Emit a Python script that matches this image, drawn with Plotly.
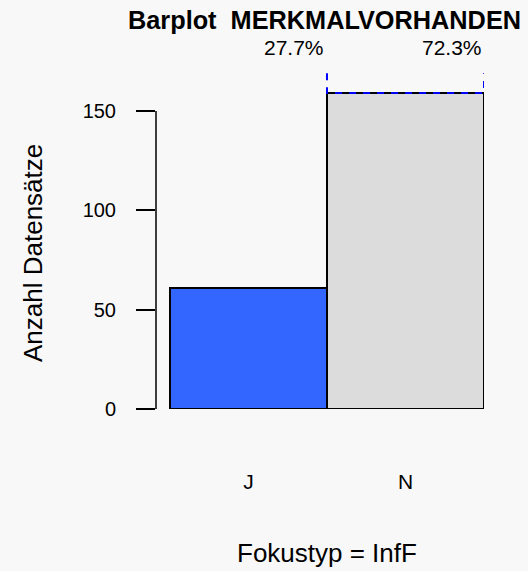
import plotly.graph_objects as go

categories = ["J", "N"]
counts = [61, 159]
percent_labels = ["27.7%", "72.3%"]
bar_colors = ["#3366FF", "#DCDCDC"]
y_ticks = [0, 50, 100, 150]

BG = "#F8F8F8"
FONT = "Liberation Sans, Arial, sans-serif"

xpos = list(range(len(categories)))

fig = go.Figure()
fig.add_trace(go.Bar(
    x=xpos, y=counts, width=1.0,
    marker=dict(color=bar_colors, line=dict(color="black", width=2)),
    hoverinfo="skip", showlegend=False,
))

# dashed bracket over the maximum bar
imax = counts.index(max(counts))
ytop = 169
fig.add_trace(go.Scatter(
    x=[imax - 0.5, imax - 0.5, imax + 0.5, imax + 0.5],
    y=[ytop, max(counts), max(counts), ytop],
    mode="lines", line=dict(color="#0000FF", width=2, dash="7px,7px"),
    hoverinfo="skip", showlegend=False, cliponaxis=False,
))

# y-axis line only over tick range
fig.add_shape(type="line", xref="paper", yref="y", x0=0, x1=0,
              y0=y_ticks[0], y1=y_ticks[-1], line=dict(color="black", width=1.5))

# percentage labels
offsets = [0.29, 0.296]
for i, lab in enumerate(percent_labels):
    fig.add_annotation(x=xpos[i] + offsets[i], y=1.0, xref="x", yref="paper",
                       xanchor="center", yanchor="middle",
                       yshift=26, text=lab, showarrow=False,
                       font=dict(family=FONT, size=21, color="black"))

fig.add_annotation(x=0.5, y=1.0, xref="x", yref="paper", xshift=-2, yshift=53,
                   xanchor="center", yanchor="middle",
                   text="<b>Barplot  MERKMALVORHANDEN</b>", showarrow=False,
                   font=dict(family=FONT, size=25.3, color="black"))

fig.add_annotation(x=0.5, y=0, xref="x", yref="paper", yshift=-144,
                   xanchor="center", yanchor="middle",
                   text="Fokustyp = InfF", showarrow=False,
                   font=dict(family=FONT, size=26, color="black"))

fig.add_annotation(x=0, y=0.5, xref="paper", yref="paper", xshift=-123, yshift=-12,
                   xanchor="center", yanchor="middle",
                   text="Anzahl Datensätze", textangle=-90, showarrow=False,
                   font=dict(family=FONT, size=26, color="black"))

fig.update_layout(
    width=528, height=571,
    margin=dict(l=156, r=44, t=73, b=162),
    paper_bgcolor=BG, plot_bgcolor=BG,
    bargap=0,
    font=dict(family=FONT, size=20, color="black"),
    xaxis=dict(range=[-0.589, 1.5], tickvals=xpos, ticktext=categories,
               showgrid=False, zeroline=False, showline=False, ticks="",
               ticklabelstandoff=58, tickfont=dict(size=21)),
    yaxis=dict(range=[0, 169.1], tickvals=y_ticks, showgrid=False, zeroline=False,
               showline=False, ticks="outside", ticklen=19, tickwidth=1.5,
               tickcolor="black", ticklabelstandoff=16, tickfont=dict(size=20)),
)

fig.write_html(
    "out.html",
    config={"displayModeBar": False},
    post_script="document.body.style.margin='0';document.body.style.background='#F8F8F8';",
)
